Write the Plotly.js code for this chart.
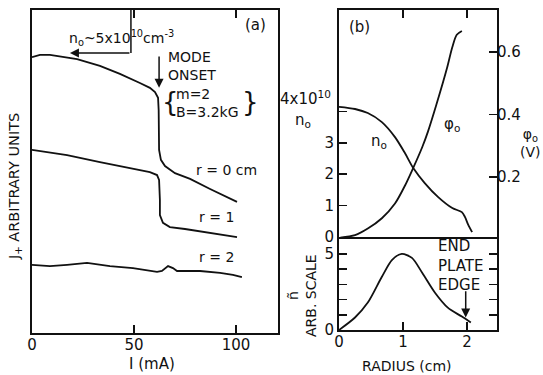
<!DOCTYPE html>
<html><head><meta charset="utf-8">
<script src="https://cdn.plot.ly/plotly-3.0.1.min.js"></script>
<style>html,body{margin:0;padding:0;background:#fff;}#chart{width:543px;height:375px;}</style>
</head><body><div id="chart"></div>
<script>
// Panel (a): J+ (arbitrary units) vs discharge current I (mA)
const current_r0 = [0, 3.9, 8.8, 22.1, 33.3, 43.1, 52.9, 57.8, 60.3, 61.8, 62.1, 62.3, 63.2, 65.2, 70.1, 77.5, 87.3, 100.5];
const jplus_r0   = [85.4, 86.1, 86.1, 84.8, 82.7, 80.2, 77.4, 75.9, 74.6, 72.8, 69.0, 56.7, 53.6, 51.7, 49.5, 47.7, 44.6, 40.6];
const current_r1 = [0, 17.2, 33.3, 48.0, 57.8, 61.3, 62.3, 62.7, 62.7, 64.2, 67.6, 75.0, 88.7, 100.5];
const jplus_r1   = [56.7, 55.1, 52.9, 51.1, 49.8, 48.9, 47.4, 41.2, 36.5, 34.1, 32.8, 32.2, 30.9, 29.7];
const current_r2 = [0, 8.8, 17.2, 27.0, 38.2, 49.5, 61.3, 63.7, 66.7, 69.1, 71.1, 82.4, 92.2, 98.5, 102.9];
const jplus_r2   = [21.1, 20.7, 21.1, 21.7, 20.7, 20.1, 18.9, 19.2, 20.7, 20.1, 19.2, 19.2, 18.6, 18.0, 17.3];

// Panel (b): radial profiles
const radius_n0  = [0, 0.25, 0.45, 0.67, 0.875, 1.03, 1.16, 1.34, 1.55, 1.77, 1.92, 1.97, 2.02, 2.08];
const density_n0 = [4.15, 4.08, 3.95, 3.66, 3.18, 2.67, 2.19, 1.71, 1.26, 0.91, 0.78, 0.62, 0.37, 0.14];
const radius_phi    = [0.02, 0.25, 0.45, 0.67, 0.875, 1.03, 1.16, 1.30, 1.39, 1.52, 1.69, 1.77, 1.84, 1.92];
const potential_phi = [0.006, 0.014, 0.035, 0.068, 0.115, 0.172, 0.229, 0.295, 0.345, 0.430, 0.550, 0.615, 0.655, 0.667];
const radius_nt = [0, 0.25, 0.45, 0.67, 0.83, 0.98, 1.14, 1.30, 1.50, 1.70, 1.92, 2.06];
const fluct_nt  = [0, 0.82, 1.80, 3.50, 4.61, 5.0, 4.74, 3.76, 2.45, 1.47, 0.88, 0.49];

const xTicksA = [0, 50, 100];
const xTicksB = [0, 1, 2];
const n0Ticks = [0, 1, 2, 3, 4];
const n0TickText = ['0', '1', '2', '3', ''];
const phiTicks = [0.2, 0.4, 0.6];
const phiTickText = ['0.2', '0.4', '0.6'];
const ntTicks = [0, 1, 2, 3, 4, 5];
const ntTickText = ['0', '', '', '', '', '5'];

const W = 543, H = 375;
const FONT = 'DejaVu Sans';
const BLACK = '#111';
const lineS = {color: BLACK, width: 1.8, shape: 'spline', smoothing: 0.8};
const lineL = {color: BLACK, width: 1.8};

const traces = [
  {x: current_r0, y: jplus_r0, xaxis: 'x', yaxis: 'y', mode: 'lines', line: lineL},
  {x: current_r1, y: jplus_r1, xaxis: 'x', yaxis: 'y', mode: 'lines', line: lineL},
  {x: current_r2, y: jplus_r2, xaxis: 'x', yaxis: 'y', mode: 'lines', line: lineL},
  {x: radius_n0, y: density_n0, xaxis: 'x3', yaxis: 'y2', mode: 'lines', line: lineS},
  {x: radius_phi, y: potential_phi, xaxis: 'x3', yaxis: 'y3', mode: 'lines', line: lineS},
  {x: radius_nt, y: fluct_nt, xaxis: 'x2', yaxis: 'y4', mode: 'lines', line: lineS}
];

const fx = px => px / W;
const fy = py => 1 - py / H;

const axBase = {showgrid: false, zeroline: false, showline: true, linecolor: BLACK, linewidth: 2,
  ticks: 'inside', ticklen: 8, tickwidth: 1.5, tickcolor: BLACK,
  tickfont: {family: FONT, size: 15, color: BLACK}};

const layout = {
  width: W, height: H, margin: {l: 0, r: 0, t: 0, b: 0},
  paper_bgcolor: '#fff', plot_bgcolor: 'rgba(0,0,0,0)', showlegend: false,
  font: {family: FONT, color: BLACK},
  xaxis: Object.assign({}, axBase, {domain: [fx(32), fx(278)], range: [0, 120.6], anchor: 'y',
    tickvals: xTicksA, mirror: 'ticks', ticklabelstandoff: -3}),
  yaxis: Object.assign({}, axBase, {domain: [fy(333), fy(10)], range: [0, 100], anchor: 'x',
    ticks: '', showticklabels: false, mirror: true}),
  xaxis2: Object.assign({}, axBase, {domain: [fx(339), fx(497)], range: [0, 2.469], anchor: 'y4',
    tickvals: xTicksB, mirror: false, ticklabelstandoff: -3}),
  xaxis3: Object.assign({}, axBase, {domain: [fx(339), fx(497)], range: [0, 2.469], anchor: 'y2',
    side: 'top', tickvals: [1, 2], showticklabels: false, mirror: true}),
  yaxis2: Object.assign({}, axBase, {domain: [fy(237), fy(10)], range: [-0.016, 7.248], anchor: 'x3',
    tickvals: n0Ticks, ticktext: n0TickText}),
  yaxis3: Object.assign({}, axBase, {domain: [fy(237), fy(10)], range: [0.008, 0.734], anchor: 'x3',
    overlaying: 'y2', side: 'right', tickvals: phiTicks, ticktext: phiTickText, ticklabelstandoff: -5}),
  yaxis4: Object.assign({}, axBase, {domain: [fy(330), fy(237)], range: [0, 6.11], anchor: 'x2',
    tickvals: ntTicks, ticktext: ntTickText, mirror: 'ticks'}),
  shapes: [
    {type: 'line', xref: 'x', yref: 'y', x0: 48.5, x1: 48.5, y0: 86.7, y1: 100, line: {color: BLACK, width: 1.5}}
  ],
  annotations: []
};

function txt(text, px, py, size, opts) {
  return Object.assign({text: text, x: fx(px), y: fy(py), xref: 'paper', yref: 'paper', showarrow: false,
    font: {family: FONT, size: size, color: BLACK}, xanchor: 'center', yanchor: 'middle'}, opts || {});
}
const A = layout.annotations;
A.push(txt('(a)', 255, 25, 15));
A.push(txt('n<sub>o</sub>~5x10<sup>10</sup>cm<sup>-3</sup>', 67, 38, 14, {xanchor: 'left'}));
A.push(txt('MODE<br>ONSET', 166, 66, 14, {xanchor: 'left', align: 'left'}));
A.push(txt('{', 170, 102, 26));
A.push(txt('m=2<br>B=3.2kG', 174, 103, 14, {xanchor: 'left', align: 'left'}));
A.push(txt('}', 250, 102, 26));
A.push(txt('r = 0 cm', 226, 170, 14));
A.push(txt('r = 1', 197, 217, 14, {xanchor: 'left'}));
A.push(txt('r = 2', 197, 257, 14, {xanchor: 'left'}));
A.push(txt('J<sub>+</sub> ARBITRARY UNITS', 15, 187, 14.5, {textangle: -90}));
A.push(txt('I (mA)', 152, 364, 15));
A.push(txt('(b)', 359, 27, 15));
A.push(txt('4x10<sup>10</sup>', 333, 98, 15, {xanchor: 'right'}));
A.push(txt('n<sub>o</sub>', 303, 120, 15));
A.push(txt('n<sub>o</sub>', 379, 141, 15));
A.push(txt('φ<sub>o</sub>', 452, 125, 15));
A.push(txt('φ<sub>o</sub><br>(V)', 530, 143, 14));
A.push(txt('ñ<br>ARB. SCALE', 302, 296, 14, {textangle: -90}));
A.push(txt('END<br>PLATE<br>EDGE', 436, 265, 15, {xanchor: 'left', align: 'left'}));
A.push(txt('RADIUS (cm)', 407, 366, 14));

// arrows
A.push({xref: 'x', yref: 'y', axref: 'x', ayref: 'y', x: 62.3, y: 75.9, ax: 62.3, ay: 86.1, text: '',
  showarrow: true, arrowhead: 2, arrowsize: 1.2, arrowwidth: 1.5, arrowcolor: BLACK});
A.push({xref: 'x', yref: 'y', axref: 'x', ayref: 'y', x: 18.6, y: 86.7, ax: 48.5, ay: 86.7, text: '',
  showarrow: true, arrowhead: 2, arrowsize: 1.2, arrowwidth: 1.5, arrowcolor: BLACK});
A.push({xref: 'x2', yref: 'y4', axref: 'x2', ayref: 'y4', x: 1.98, y: 0.82, ax: 1.98, ay: 2.65, text: '',
  showarrow: true, arrowhead: 2, arrowsize: 1.2, arrowwidth: 1.5, arrowcolor: BLACK});

Plotly.newPlot('chart', traces, layout, {staticPlot: true, displayModeBar: false});
</script></body></html>
